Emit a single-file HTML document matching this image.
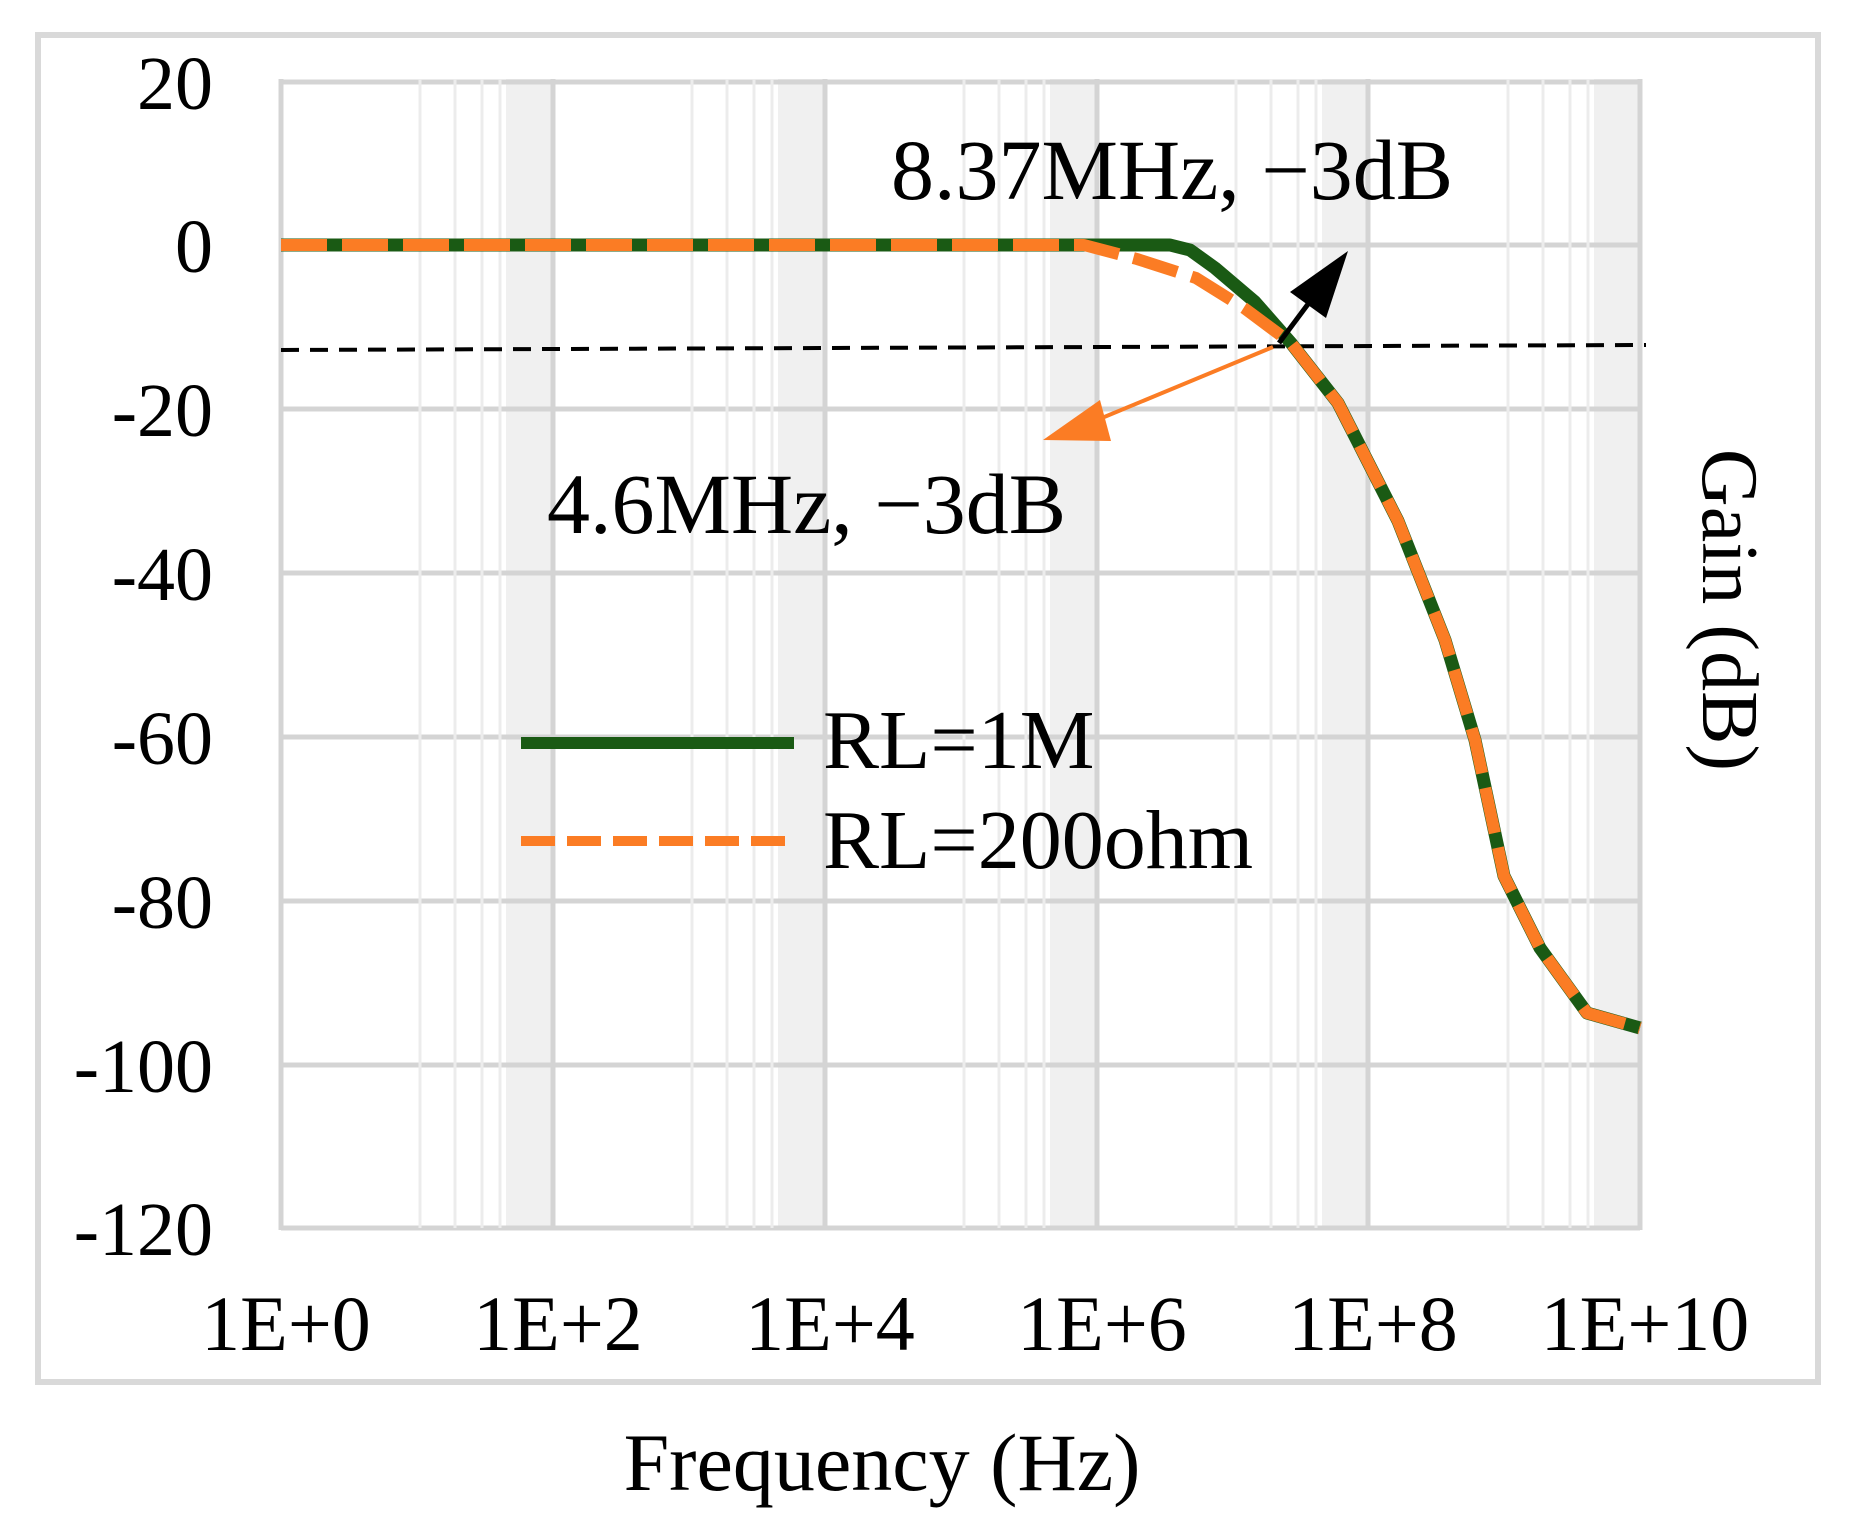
<!DOCTYPE html>
<html><head><meta charset="utf-8"><style>
html,body{margin:0;padding:0;background:#fff}
svg{display:block}
text{font-family:"Liberation Serif",serif;fill:#000}
</style></head><body>
<svg width="1850" height="1535" viewBox="0 0 1850 1535" xmlns="http://www.w3.org/2000/svg">
<rect x="38" y="35" width="1780" height="1347" fill="#fff" stroke="#d9d9d9" stroke-width="6"/>
<g fill="#f0f0f0">
<rect x="506" y="79" width="46" height="1149"/>
<rect x="778" y="79" width="46" height="1149"/>
<rect x="1050" y="79" width="46" height="1149"/>
<rect x="1322" y="79" width="46" height="1149"/>
<rect x="1594" y="79" width="46" height="1149"/>
</g>
<g stroke="#d4d4d4" stroke-width="5">
<line x1="281" y1="82" x2="1640" y2="82"/>
<line x1="281" y1="245" x2="1640" y2="245"/>
<line x1="281" y1="409" x2="1640" y2="409"/>
<line x1="281" y1="573" x2="1640" y2="573"/>
<line x1="281" y1="737" x2="1640" y2="737"/>
<line x1="281" y1="901" x2="1640" y2="901"/>
<line x1="281" y1="1065" x2="1640" y2="1065"/>
<line x1="281" y1="1228" x2="1640" y2="1228"/>
<line x1="281" y1="79" x2="281" y2="1230"/>
<line x1="553" y1="79" x2="553" y2="1230"/>
<line x1="825" y1="79" x2="825" y2="1230"/>
<line x1="1097" y1="79" x2="1097" y2="1230"/>
<line x1="1368" y1="79" x2="1368" y2="1230"/>
<line x1="1640" y1="79" x2="1640" y2="1230"/>
</g>
<g stroke="#ececec" stroke-width="3">
<line x1="420" y1="79" x2="420" y2="1228"/><line x1="455" y1="79" x2="455" y2="1228"/><line x1="482" y1="79" x2="482" y2="1228"/><line x1="500" y1="79" x2="500" y2="1228"/>
<line x1="692" y1="79" x2="692" y2="1228"/><line x1="727" y1="79" x2="727" y2="1228"/><line x1="754" y1="79" x2="754" y2="1228"/><line x1="772" y1="79" x2="772" y2="1228"/>
<line x1="964" y1="79" x2="964" y2="1228"/><line x1="999" y1="79" x2="999" y2="1228"/><line x1="1026" y1="79" x2="1026" y2="1228"/><line x1="1044" y1="79" x2="1044" y2="1228"/>
<line x1="1236" y1="79" x2="1236" y2="1228"/><line x1="1271" y1="79" x2="1271" y2="1228"/><line x1="1298" y1="79" x2="1298" y2="1228"/><line x1="1316" y1="79" x2="1316" y2="1228"/>
<line x1="1508" y1="79" x2="1508" y2="1228"/><line x1="1543" y1="79" x2="1543" y2="1228"/><line x1="1570" y1="79" x2="1570" y2="1228"/><line x1="1588" y1="79" x2="1588" y2="1228"/>
</g>
<g font-size="76" text-anchor="end">
<text x="213" y="109">20</text>
<text x="213" y="272">0</text>
<text x="213" y="436">-20</text>
<text x="213" y="600">-40</text>
<text x="213" y="764">-60</text>
<text x="213" y="928">-80</text>
<text x="213" y="1092">-100</text>
<text x="213" y="1255">-120</text>
</g>
<g font-size="78" text-anchor="middle">
<text x="286" y="1350">1E+0</text>
<text x="558" y="1350">1E+2</text>
<text x="830" y="1350">1E+4</text>
<text x="1102" y="1350">1E+6</text>
<text x="1373" y="1350">1E+8</text>
<text x="1645" y="1350">1E+10</text>
</g>
<text x="882" y="1490" font-size="82" text-anchor="middle">Frequency (Hz)</text>
<text transform="translate(1703,610) rotate(90)" font-size="80" text-anchor="middle">Gain (dB)</text>
<line x1="281" y1="350" x2="1646" y2="345" stroke="#000" stroke-width="4" stroke-dasharray="18,11"/>
<polyline fill="none" stroke="#1a5a14" stroke-width="13" stroke-linejoin="round" points="281,245 1084,245 1170,245 1190,250 1215,268 1255,302 1291,343 1338,403 1398,521 1445,640 1475,740 1504,876 1540,948 1587,1013 1640,1028"/>
<polyline fill="none" stroke="#fb7c24" stroke-width="12" stroke-dasharray="46,15" stroke-linejoin="round" points="281,245 1084,245 1137,259 1196,278 1244,308 1291,343 1338,403 1398,521 1445,640 1475,740 1504,876 1540,948 1587,1013 1640,1028"/>
<line x1="1279" y1="343" x2="1320" y2="288" stroke="#000" stroke-width="5"/>
<polygon points="1348,251 1290,292 1326,318" fill="#000"/>
<line x1="1273" y1="347" x2="1085" y2="425" stroke="#fb7c24" stroke-width="4"/>
<polygon points="1043,440 1100,400 1111,441" fill="#fb7c24"/>
<text x="891" y="199" font-size="86">8.37MHz, −3dB</text>
<text x="547" y="533" font-size="86">4.6MHz, −3dB</text>
<line x1="521" y1="743" x2="794" y2="743" stroke="#1a5a14" stroke-width="12"/>
<line x1="521" y1="841" x2="794" y2="841" stroke="#fb7c24" stroke-width="10" stroke-dasharray="34,12"/>
<text x="823" y="768" font-size="84">RL=1M</text>
<text x="823" y="868" font-size="84">RL=200ohm</text>
</svg>
</body></html>
